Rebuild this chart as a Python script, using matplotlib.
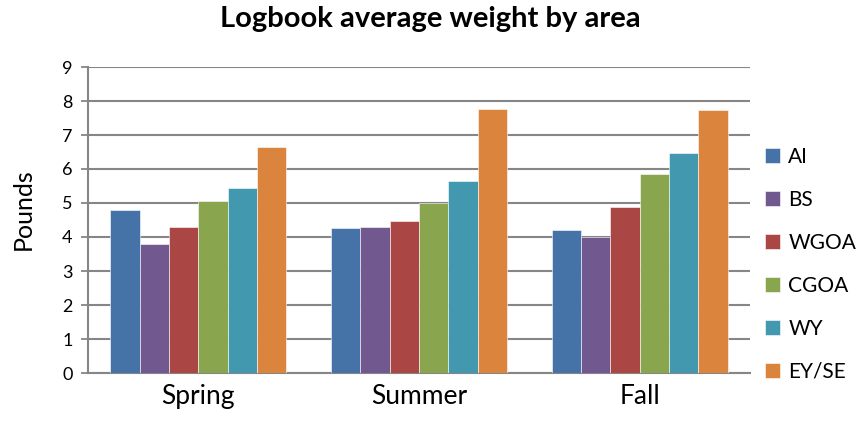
import numpy as np
import matplotlib
matplotlib.use("Agg")
import matplotlib.pyplot as plt

plt.rcParams['font.family'] = ['Lato', 'DejaVu Sans']

seasons = ["Spring", "Summer", "Fall"]
areas = ["AI", "BS", "WGOA", "CGOA", "WY", "EY/SE"]
colors = ["#4572A7", "#71588F", "#AA4643", "#89A54E", "#4198AF", "#DB843D"]

# average weight (pounds) per area, one value per season
ai = [4.78, 4.26, 4.22]
bs = [3.79, 4.30, 3.99]
wgoa = [4.30, 4.48, 4.88]
cgoa = [5.06, 4.99, 5.84]
wy = [5.45, 5.66, 6.47]
eyse = [6.66, 7.77, 7.75]
series = [ai, bs, wgoa, cgoa, wy, eyse]

fig = plt.figure(figsize=(8.6, 4.21), dpi=100)
ax = fig.add_axes([88/860, 1 - 373/421, (750-88)/860, (373-67)/421])

x = np.arange(len(seasons))
bw = 0.133
for i, (vals, name, c) in enumerate(zip(series, areas, colors)):
    ax.bar(x + (i - 2.5) * bw, vals, width=bw, color=c, label=name,
           edgecolor='white', linewidth=0.4, zorder=3)

ax.set_xlim(-0.5, 2.5)
ax.set_ylim(0, 9)
ax.set_yticks(range(10))
ax.set_xticks(x)
ax.set_xticklabels(seasons, fontsize=19)
ax.tick_params(axis='x', length=0, pad=8)
ax.tick_params(axis='y', length=5, width=1.3, color='#868686', labelsize=13, pad=6)
ax.grid(axis='y', color='#868686', linewidth=1.5, zorder=0)
for s in ['top', 'right']:
    ax.spines[s].set_visible(False)
for s in ['left', 'bottom']:
    ax.spines[s].set_color('#868686')
    ax.spines[s].set_linewidth(1.5)

ax.set_ylabel("Pounds", fontsize=18, va='center')
ax.yaxis.set_label_coords(-0.098, 0.536)
fig.suptitle("Logbook average weight by area", x=0.5, y=0.985,
             fontsize=21, fontweight='bold')

ax.legend(loc='upper left', bbox_to_anchor=(0.995, 0.8), frameon=False,
          fontsize=15, handlelength=0.7, handleheight=0.7, handletextpad=0.4,
          labelspacing=1.1)

fig.savefig("out.png", dpi=100)
